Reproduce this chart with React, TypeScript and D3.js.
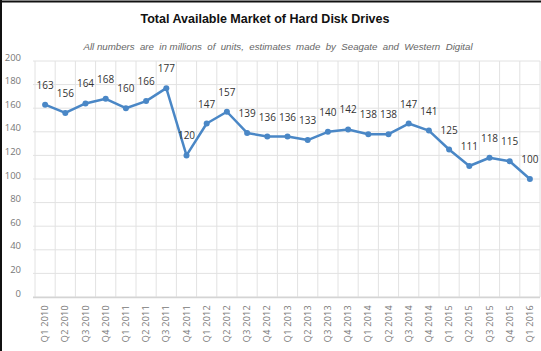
import * as d3 from 'd3';

const quarters = [
  'Q1 2010', 'Q2 2010', 'Q3 2010', 'Q4 2010',
  'Q1 2011', 'Q2 2011', 'Q3 2011', 'Q4 2011',
  'Q1 2012', 'Q2 2012', 'Q3 2012', 'Q4 2012',
  'Q1 2013', 'Q2 2013', 'Q3 2013', 'Q4 2013',
  'Q1 2014', 'Q2 2014', 'Q3 2014', 'Q4 2014',
  'Q1 2015', 'Q2 2015', 'Q3 2015', 'Q4 2015',
  'Q1 2016',
];

const units = [
  163, 156, 164, 168, 160, 166, 177, 120, 147, 157, 139, 136,
  136, 133, 140, 142, 138, 138, 147, 141, 125, 111, 118, 115, 100,
];

const yTicks = [0, 20, 40, 60, 80, 100, 120, 140, 160, 180, 200];

const title = 'Total Available Market of Hard Disk Drives';
const subtitle = 'All numbers  are  in millions  of  units,  estimates  made  by  Seagate  and  Western  Digital';

const W = 541;
const H = 351;
const LINE = '#4a87c6';
const FONT = '"Open Sans", "DejaVu Sans", sans-serif';

export default function App() {
  const x = d3.scaleBand<string>().domain(quarters).range([35, 540]);
  const y = d3.scaleLinear().domain([0, 200]).range([297, 61]);
  const cx = (q: string) => (x(q) ?? 0) + x.bandwidth() / 2;

  const line = d3
    .line<number>()
    .x((_, i) => cx(quarters[i]))
    .y((d) => y(d));

  return (
    <svg
      width={W}
      height={H}
      style={{ position: 'absolute', left: 0, top: 0, background: '#fff' }}
    >
      {/* titel */}
      <text
        x={265}
        y={23}
        textAnchor="middle"
        fontFamily='"Liberation Sans", Arial, sans-serif'
        fontWeight="bold"
        fontSize={12.5}
        fill="#111"
      >
        {title}
      </text>
      <text
        x={278}
        y={50}
        textAnchor="middle"
        fontFamily='"Liberation Sans", Arial, sans-serif'
        fontStyle="italic"
        fontSize={9.7}
        fill="#666"
        style={{ whiteSpace: 'pre' }}
      >
        {subtitle}
      </text>

      {/* grid */}
      {yTicks.map((t) => (
        <line key={'h' + t} x1={33} x2={540} y1={y(t)} y2={y(t)} stroke="#e2e2e2" />
      ))}
      {[...quarters, null].map((q, i) => {
        const xx = q ? (x(q) as number) : 540;
        return (
          <line key={'v' + i} x1={xx} x2={xx} y1={61} y2={297} stroke="#e2e2e2" />
        );
      })}
      <line x1={33} x2={540} y1={297.5} y2={297.5} stroke="#d4d4d4" strokeWidth={1.5} />

      {/* y-as */}
      {yTicks.map((t) => (
        <text
          key={'yl' + t}
          x={21}
          y={y(t) - 3}
          textAnchor="end"
          dominantBaseline="middle"
          fontFamily={FONT}
          fontSize={9.5}
          fill="#777"
        >
          {t}
        </text>
      ))}

      {/* x-as */}
      {quarters.map((q) => (
        <text
          key={'xl' + q}
          transform={`translate(${cx(q) + 3},305) rotate(-90)`}
          textAnchor="end"
          fontFamily={FONT}
          fontSize={9}
          letterSpacing={0.3}
          fill="#777"
        >
          {q}
        </text>
      ))}

      {/* lijn + punten */}
      <path d={line(units) ?? ''} fill="none" stroke={LINE} strokeWidth={2.5} strokeLinejoin="round" />
      {units.map((v, i) => (
        <circle key={'p' + i} cx={cx(quarters[i])} cy={y(v)} r={3} fill={LINE} />
      ))}
      {units.map((v, i) => (
        <text
          key={'vl' + i}
          x={cx(quarters[i])}
          y={y(v) - 16}
          textAnchor="middle"
          fontFamily={FONT}
          fontSize={10}
          fill="#333"
        >
          {v}
        </text>
      ))}

      {/* kader */}
      <line x1={0} x2={W} y1={1.5} y2={1.5} stroke="#111" strokeWidth={2} />
      <line x1={1} x2={1} y1={0} y2={H} stroke="#111" strokeWidth={2} />
    </svg>
  );
}
